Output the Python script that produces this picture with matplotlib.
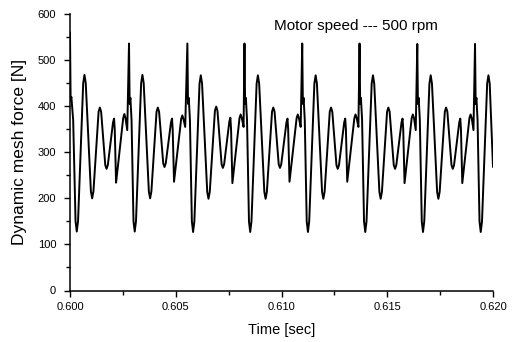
import matplotlib
matplotlib.use("Agg")
import matplotlib.pyplot as plt
from matplotlib.ticker import MultipleLocator, FormatStrFormatter

# Time [s] and dynamic mesh force [N]
time_s = [
    # start / period 1
    0.600000, 0.600030, 0.600065, 0.600150, 0.600262, 0.600320, 0.600380, 0.600624,
    0.600684, 0.600744, 0.600988, 0.601048, 0.601108, 0.601352, 0.601412, 0.601472,
    0.601668, 0.601728, 0.601788, 0.602035, 0.602083, 0.602115, 0.602178, 0.602230,
    0.602515, 0.602570, 0.602625, 0.602707,
    # period 2
    0.602790, 0.602820, 0.602856, 0.602910, 0.603002, 0.603060, 0.603120, 0.603364,
    0.603424, 0.603484, 0.603728, 0.603788, 0.603848, 0.604092, 0.604152, 0.604212,
    0.604408, 0.604468, 0.604528, 0.604775, 0.604823, 0.604855, 0.604918, 0.604970,
    0.605255, 0.605310, 0.605365, 0.605447,
    # period 3
    0.605550, 0.605580, 0.605616, 0.605670, 0.605762, 0.605820, 0.605880, 0.606124,
    0.606184, 0.606244, 0.606488, 0.606548, 0.606608, 0.606852, 0.606912, 0.606972,
    0.607168, 0.607228, 0.607288, 0.607535, 0.607583, 0.607615, 0.607678, 0.607730,
    0.608015, 0.608070, 0.608125, 0.608207,
    # period 4
    0.608250, 0.608280, 0.608316, 0.608370, 0.608462, 0.608520, 0.608580, 0.608824,
    0.608884, 0.608944, 0.609188, 0.609248, 0.609308, 0.609552, 0.609612, 0.609672,
    0.609868, 0.609928, 0.609988, 0.610235, 0.610283, 0.610315, 0.610378, 0.610430,
    0.610715, 0.610770, 0.610825, 0.610907,
    # period 5
    0.610980, 0.611010, 0.611046, 0.611100, 0.611192, 0.611250, 0.611310, 0.611554,
    0.611614, 0.611674, 0.611918, 0.611978, 0.612038, 0.612282, 0.612342, 0.612402,
    0.612598, 0.612658, 0.612718, 0.612965, 0.613013, 0.613045, 0.613108, 0.613160,
    0.613445, 0.613500, 0.613555, 0.613637,
    # period 6
    0.613690, 0.613720, 0.613756, 0.613810, 0.613902, 0.613960, 0.614020, 0.614264,
    0.614324, 0.614384, 0.614628, 0.614688, 0.614748, 0.614992, 0.615052, 0.615112,
    0.615308, 0.615368, 0.615428, 0.615675, 0.615723, 0.615755, 0.615818, 0.615870,
    0.616155, 0.616210, 0.616265, 0.616347,
    # period 7
    0.616420, 0.616450, 0.616486, 0.616540, 0.616632, 0.616690, 0.616750, 0.616994,
    0.617054, 0.617114, 0.617358, 0.617418, 0.617478, 0.617722, 0.617782, 0.617842,
    0.618038, 0.618098, 0.618158, 0.618405, 0.618453, 0.618485, 0.618548, 0.618600,
    0.618885, 0.618940, 0.618995, 0.619077,
    # period 8 (partial)
    0.619150, 0.619180, 0.619216, 0.619270, 0.619362, 0.619420, 0.619480, 0.619724,
    0.619784, 0.619844, 0.620000,
]
force_n = [
    560, 412, 420, 370, 150, 128, 150, 450,
    468, 450, 215, 200, 215, 388, 397, 388,
    272, 264, 272, 365, 373, 350, 234, 255,
    374, 383, 374, 348,
    536, 405, 418, 370, 150, 128, 150, 450,
    468, 450, 215, 200, 215, 388, 397, 388,
    276, 268, 276, 365, 373, 350, 236, 257,
    372, 380, 372, 355,
    536, 405, 418, 370, 150, 127, 150, 449,
    467, 449, 214, 199, 214, 390, 399, 390,
    274, 266, 274, 367, 375, 350, 233, 255,
    374, 382, 374, 355,
    536, 405, 418, 370, 150, 127, 150, 449,
    467, 449, 214, 199, 214, 388, 397, 388,
    274, 266, 274, 365, 373, 350, 236, 257,
    374, 382, 374, 355,
    536, 405, 418, 370, 150, 127, 150, 449,
    467, 449, 214, 199, 214, 388, 397, 388,
    272, 264, 272, 365, 373, 350, 236, 257,
    374, 382, 374, 355,
    536, 405, 418, 370, 150, 127, 150, 449,
    467, 449, 214, 199, 214, 388, 397, 388,
    272, 264, 272, 365, 373, 350, 233, 255,
    374, 382, 374, 348,
    535, 405, 418, 370, 150, 127, 150, 449,
    467, 449, 214, 199, 214, 388, 397, 388,
    272, 264, 272, 365, 373, 350, 233, 255,
    374, 382, 374, 348,
    535, 405, 418, 370, 150, 127, 150, 449,
    467, 449, 268,
]

x_label = "Time [sec]"
y_label = "Dynamic mesh force [N]"
note = "Motor speed --- 500 rpm"

plt.rcParams["font.family"] = ["Liberation Sans", "DejaVu Sans"]

fig = plt.figure(figsize=(5.2, 3.42), dpi=100)
ax = fig.add_axes([70 / 520, 51.5 / 342, 423 / 520, 276.5 / 342])

ax.plot(time_s, force_n, color="black", lw=1.4,
        solid_joinstyle="round", solid_capstyle="round")

ax.set_xlim(0.600, 0.620)
ax.set_ylim(0, 600)
ax.xaxis.set_major_locator(MultipleLocator(0.005))
ax.xaxis.set_minor_locator(MultipleLocator(0.0025))
ax.xaxis.set_major_formatter(FormatStrFormatter("%.3f"))
ax.yaxis.set_major_locator(MultipleLocator(100))
ax.yaxis.set_minor_locator(MultipleLocator(50))

for s in ("top", "right"):
    ax.spines[s].set_visible(False)
for s in ("left", "bottom"):
    ax.spines[s].set_linewidth(1.1)

ax.tick_params(which="major", direction="out", length=4, width=1.0, labelsize=8)
ax.tick_params(which="minor", direction="out", length=3, width=1.0)
ax.tick_params(axis="x", which="major", pad=4)
ax.tick_params(axis="y", which="major", pad=6)

ax.set_xlabel(x_label, fontsize=10.5)
ax.set_ylabel(y_label, fontsize=12.5)
ax.xaxis.set_label_coords(0.5 + (282 - 281.5) / 423, -0.1175)
ax.yaxis.set_label_coords(-0.102, 0.5)

fig.text(274 / 520, 1 - 26 / 342, note, fontsize=11, ha="left", va="center")

fig.savefig("out.png", dpi=100)
